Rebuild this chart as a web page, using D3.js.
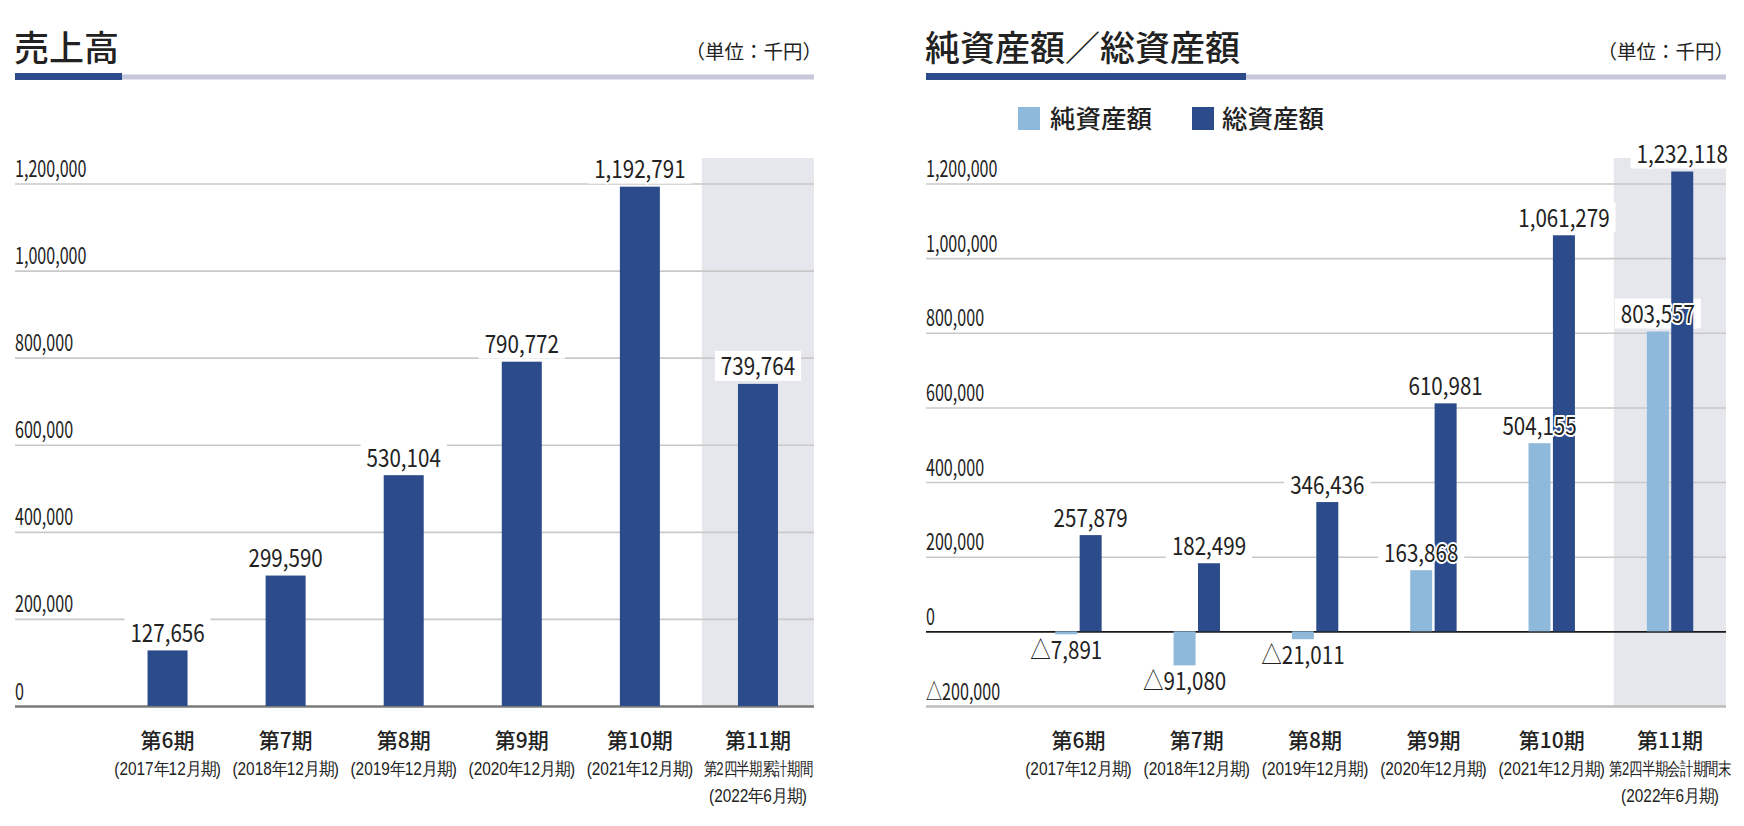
<!DOCTYPE html>
<html><head><meta charset="utf-8">
<script src="https://cdn.jsdelivr.net/npm/d3@7"></script>
<style>
html,body{margin:0;padding:0;background:#fff;}
svg{display:block;font-family:"Noto Sans CJK JP","Noto Sans",sans-serif;}
</style></head>
<body><svg id="c" width="1744" height="826"></svg>
<script>
// ---- data ----
const categories = ['第6期','第7期','第8期','第9期','第10期','第11期'];
const salesSub1 = ['(2017年12月期)','(2018年12月期)','(2019年12月期)','(2020年12月期)','(2021年12月期)','第2四半期累計期間'];
const assetSub1 = ['(2017年12月期)','(2018年12月期)','(2019年12月期)','(2020年12月期)','(2021年12月期)','第2四半期会計期間末'];
const subLine2 = ['','','','','','(2022年6月期)'];
const sales = [127656, 299590, 530104, 790772, 1192791, 739764];
const netAssets = [-7891, -91080, -21011, 163868, 504155, 803557];
const totalAssets = [257879, 182499, 346436, 610981, 1061279, 1232118];
const salesTicks = [0, 200000, 400000, 600000, 800000, 1000000, 1200000];
const assetTicks = [-200000, 0, 200000, 400000, 600000, 800000, 1000000, 1200000];
const seriesNames = ['純資産額','総資産額'];
const unitLabel = '（単位：千円）';

// ---- styles ----
const DARK = '#2b4b8b', LIGHT = '#8fb9da', BAND = '#e6e7ed', GRID = '#c9c9c9', TXT = '#222';
const svg = d3.select('#c');
svg.append('rect').attr('width',1744).attr('height',826).attr('fill','#fff');
const fmt = d3.format(',');
const fmtS = v => v < 0 ? '△' + fmt(-v) : fmt(v);

function label(g, x, y, s, size, sx, anchor, halo) {
  const t = g.append('text')
    .attr('transform', `translate(${x},${y}) scale(${sx},1)`)
    .attr('text-anchor', anchor || 'middle')
    .attr('font-size', size).attr('fill', TXT).text(s);
  if (halo) t.attr('stroke','#fff').attr('stroke-width',4).attr('stroke-linejoin','round').attr('paint-order','stroke');
  return t;
}
const subScale = s => s.startsWith('(') ? 0.88 : 0.745;

function panel(opts) {
  const {x0, x1, title, xRange, y, ticks, sub1} = opts;
  const g = svg.append('g');
  // title
  label(g, x0 - 1, 61, title, 35, 1, 'start').attr('font-weight', 500);
  g.append('rect').attr('x', x0).attr('y', 74.5).attr('width', x1 - x0).attr('height', 5).attr('fill', '#c8c8dc');
  g.append('rect').attr('x', x0).attr('y', 73).attr('width', opts.titleBar).attr('height', 7).attr('fill', DARK);
  label(g, x1 + 8, 59, unitLabel, 19.5, 1, 'end');

  const x = d3.scaleBand().domain(categories).range(xRange);
  // highlighted last-period band
  const lastX = x(categories[categories.length - 1]);
  g.append('rect').attr('x', lastX + 3).attr('y', 158).attr('width', x1 - lastX - 3).attr('height', y.range()[0] - 158).attr('fill', BAND);

  // y axis / gridlines
  const ax = g.append('g').attr('transform', `translate(${x0},0)`)
    .call(d3.axisRight(y).tickValues(ticks).tickSize(x1 - x0).tickFormat(fmtS));
  ax.select('.domain').remove();
  ax.selectAll('.tick line').attr('stroke', GRID).attr('stroke-width', 1.6);
  ax.selectAll('.tick text').attr('x', 0).attr('dy', 0).attr('y', -7)
    .attr('text-anchor', 'start').attr('font-size', 23).attr('fill', TXT)
    .attr('font-family', '"Noto Sans CJK JP",sans-serif')
    .attr('transform', 'scale(0.7,1)');
  opts.styleTicks(ax);

  // x axis labels
  const xa = g.append('g').attr('transform', `translate(0,${y.range()[0]})`)
    .call(d3.axisBottom(x).tickSize(0).tickPadding(0));
  xa.select('.domain').remove();
  xa.selectAll('.tick text').attr('y', 42).attr('dy', 0).attr('font-size', 21).attr('fill', TXT)
    .attr('font-family', '"Noto Sans CJK JP",sans-serif').attr('font-weight', 500);
  xa.selectAll('.tick').each(function(d, i) {
    const t = d3.select(this);
    label(t, 0, 69, sub1[i], 17.5, subScale(sub1[i]), 'middle');
    if (subLine2[i]) label(t, 0, 96, subLine2[i], 17.5, subScale(subLine2[i]), 'middle');
  });
  return {g, x};
}

// ---------- Left: sales ----------
const yL = d3.scaleLinear().domain([0, 1200000]).range([706, 183.5]);
const L = panel({
  x0: 15, x1: 814, title: '売上高', titleBar: 107, xRange: [108.5, 817], y: yL, ticks: salesTicks, sub1: salesSub1,
  styleTicks: ax => ax.selectAll('.tick line').filter(d => d === 0).attr('stroke', '#7a7a7a').attr('stroke-width', 2.5)
});
{
  const x = L.x, bw = 40;
  const bgL = L.g.append('g'), barL = L.g.append('g'), txL = L.g.append('g');
  sales.forEach((v, i) => {
    const cx = x(categories[i]) + x.bandwidth() / 2;
    barL.append('rect').attr('x', cx - bw / 2).attr('y', yL(v)).attr('width', bw).attr('height', yL(0) - yL(v)).attr('fill', DARK);
    const t = label(txL, cx, yL(v) - 8.5, fmt(v), 24.5, 0.84, 'middle', true);
    const w = t.node().getComputedTextLength() * 0.84;
    bgL.append('rect').attr('x', cx - w / 2 - 6).attr('y', yL(v) - 33).attr('width', w + 12).attr('height', 30).attr('fill', '#fff');
  });
}

// ---------- Right: net / total assets ----------
const yR = d3.scaleLinear().domain([-200000, 1200000]).range([706, 183.5]);
const R = panel({
  x0: 926, x1: 1726, title: '純資産額／総資産額', titleBar: 320, xRange: [1019.3, 1729.2], y: yR, ticks: assetTicks, sub1: assetSub1,
  styleTicks: ax => {
    ax.selectAll('.tick line').filter(d => d === 0).attr('stroke', '#1a1a1a').attr('stroke-width', 1.8);
    ax.selectAll('.tick line').filter(d => d === -200000).attr('stroke', '#bdbdbd').attr('stroke-width', 2.5);
  }
});
{
  const x = R.x, bw = 22, gap = 2.4;
  const bgR = R.g.append('g'), barR = R.g.append('g'), txR = R.g.append('g');
  categories.forEach((c, i) => {
    const cx = x(c) + x.bandwidth() / 2;
    const lx = cx - gap / 2 - bw / 2, dx = cx + gap / 2 + bw / 2;
    const n = netAssets[i], t = totalAssets[i];
    barR.append('rect').attr('x', lx - bw / 2).attr('y', yR(Math.max(0, n))).attr('width', bw)
      .attr('height', Math.abs(yR(n) - yR(0))).attr('fill', LIGHT);
    barR.append('rect').attr('x', dx - bw / 2).attr('y', yR(t)).attr('width', bw)
      .attr('height', yR(0) - yR(t)).attr('fill', DARK);
    // total label
    const tt = label(txR, dx, yR(t) - 8.5, fmt(t), 24.5, 0.84, 'middle', true);
    const w = tt.node().getComputedTextLength() * 0.84;
    bgR.append('rect').attr('x', dx - w / 2 - 6).attr('y', yR(t) - 33).attr('width', w + 12).attr('height', 30).attr('fill', '#fff');
    // net label
    if (n >= 0) {
      const nt = label(txR, lx, yR(n) - 8.5, fmtS(n), 24.5, 0.84, 'middle', true);
      const w2 = nt.node().getComputedTextLength() * 0.84;
      bgR.append('rect').attr('x', lx - w2 / 2 - 6).attr('y', yR(n) - 33).attr('width', w2 + 12).attr('height', 30).attr('fill', '#fff');
    } else {
      label(txR, lx, yR(n) + 25, fmtS(n), 24.5, 0.84, 'middle', true);
    }
  });
  // legend
  const lg = R.g.append('g');
  [[LIGHT, 1018, 1050], [DARK, 1192, 1222]].forEach((d, i) => {
    lg.append('rect').attr('x', d[1]).attr('y', 107).attr('width', 22).attr('height', 23).attr('fill', d[0]);
    label(lg, d[2], 128, seriesNames[i], 25.5, 1, 'start').attr('font-weight', 500);
  });
}
</script></body></html>
